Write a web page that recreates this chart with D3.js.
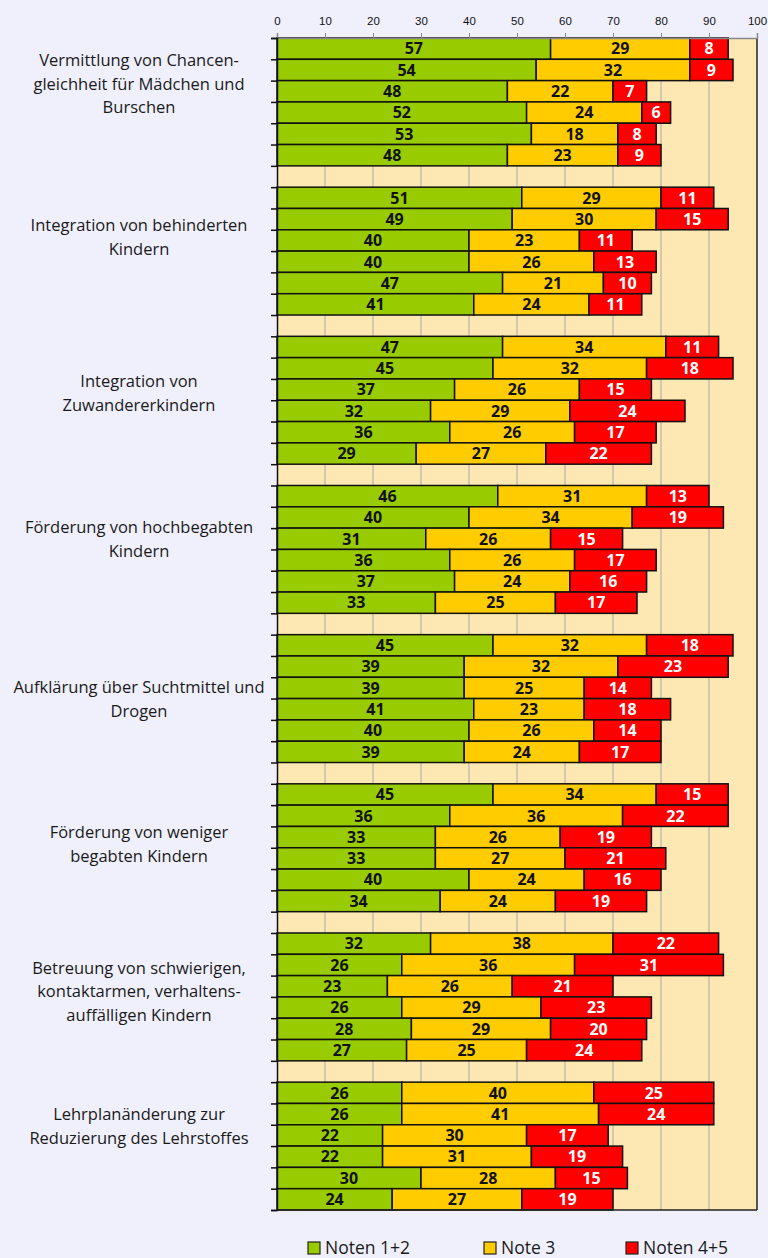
<!DOCTYPE html>
<meta charset="utf-8">
<html>
<head>
<script src="https://d3js.org/d3.v7.min.js"></script>
<style>
  body { margin: 0; background: #f0f0fc; }
  svg { display: block; font-family: "Open Sans", sans-serif; }
</style>
</head>
<body>
<script>
// categories (one label per group, lines split)
var categories = [
  ["Vermittlung von Chancen-", "gleichheit für Mädchen und", "Burschen"],
  ["Integration von behinderten", "Kindern"],
  ["Integration von", "Zuwandererkindern"],
  ["Förderung von hochbegabten", "Kindern"],
  ["Aufklärung über Suchtmittel und", "Drogen"],
  ["Förderung von weniger", "begabten Kindern"],
  ["Betreuung von schwierigen,", "kontaktarmen, verhaltens-", "auffälligen Kindern"],
  ["Lehrplanänderung zur", "Reduzierung des Lehrstoffes"]
];
// label centre, in bar rows from the top of each group
var labelOffset = [2.16, 2.34, 2.67, 2.52, 3.03, 2.84, 2.74, 2.08];

var seriesNames = ["Noten 1+2", "Note 3", "Noten 4+5"];
var seriesColors = ["#99cc00", "#ffcc00", "#ff0000"];
var textColors = ["#111", "#111", "#fff"];

// six bars per group
var noten12 = [
  [57, 54, 48, 52, 53, 48],
  [51, 49, 40, 40, 47, 41],
  [47, 45, 37, 32, 36, 29],
  [46, 40, 31, 36, 37, 33],
  [45, 39, 39, 41, 40, 39],
  [45, 36, 33, 33, 40, 34],
  [32, 26, 23, 26, 28, 27],
  [26, 26, 22, 22, 30, 24]
];
var note3 = [
  [29, 32, 22, 24, 18, 23],
  [29, 30, 23, 26, 21, 24],
  [34, 32, 26, 29, 26, 27],
  [31, 34, 26, 26, 24, 25],
  [32, 32, 25, 23, 26, 24],
  [34, 36, 26, 27, 24, 24],
  [38, 36, 26, 29, 29, 25],
  [40, 41, 30, 31, 28, 27]
];
var noten45 = [
  [8, 9, 7, 6, 8, 9],
  [11, 15, 11, 13, 10, 11],
  [11, 18, 15, 24, 17, 22],
  [13, 19, 15, 17, 16, 17],
  [18, 23, 14, 18, 14, 17],
  [15, 22, 19, 21, 16, 19],
  [22, 31, 21, 23, 20, 24],
  [25, 24, 17, 19, 15, 19]
];
var xTicks = [0, 10, 20, 30, 40, 50, 60, 70, 80, 90, 100];

var W = 768, H = 1258;
var pL = 277, pR = 757, pT = 38, pB = 1210;
var perGroup = 7; // 6 bars + gap
var nSlots = categories.length * perGroup - 1;

var svg = d3.select("body").append("svg")
  .attr("width", W).attr("height", H);

var x = d3.scaleLinear().domain([0, 100]).range([pL, pR]);
var y = d3.scaleLinear().domain([0, nSlots]).range([pT, pB]);

// plot area
svg.append("rect")
  .attr("x", pL).attr("y", pT)
  .attr("width", pR - pL).attr("height", pB - pT)
  .attr("fill", "#fde8b4");

svg.append("g").selectAll("line")
  .data(xTicks.slice(1, -1))
  .enter().append("line")
  .attr("x1", d => x(d)).attr("x2", d => x(d))
  .attr("y1", pT).attr("y2", pB)
  .attr("stroke", "#a8a8a8").attr("stroke-width", 1);

// build rows
var rows = [];
categories.forEach(function(c, g) {
  for (var i = 0; i < 6; i++) {
    var vals = [noten12[g][i], note3[g][i], noten45[g][i]];
    var x0 = 0;
    vals.forEach(function(v, s) {
      rows.push({slot: g * perGroup + i, s: s, x0: x0, v: v});
      x0 += v;
    });
  }
});

var bars = svg.append("g").selectAll("g")
  .data(rows).enter().append("g");

bars.append("rect")
  .attr("x", d => x(d.x0))
  .attr("y", d => y(d.slot))
  .attr("width", d => x(d.x0 + d.v) - x(d.x0))
  .attr("height", d => y(d.slot + 1) - y(d.slot))
  .attr("fill", d => seriesColors[d.s])
  .attr("stroke", "#111").attr("stroke-width", 1.5);

bars.append("text")
  .attr("x", d => x(d.x0 + d.v / 2))
  .attr("y", d => y(d.slot + 0.5))
  .attr("dy", "0.36em")
  .attr("text-anchor", "middle")
  .attr("font-size", 16).attr("font-weight", "bold")
  .attr("fill", d => textColors[d.s])
  .text(d => d.v);

// right border of plot
svg.append("line")
  .attr("x1", pR).attr("x2", pR).attr("y1", pT).attr("y2", pB)
  .attr("stroke", "#222").attr("stroke-width", 1.5);

// top axis
var xAxis = svg.append("g")
  .attr("transform", "translate(0," + pT + ")")
  .call(d3.axisTop(x).tickValues(xTicks).tickSize(5).tickPadding(8));
xAxis.select(".domain").attr("stroke", "#888").attr("stroke-width", 1.5);
xAxis.selectAll(".tick line").attr("stroke", "#888");
xAxis.selectAll("text").attr("font-size", 11.5).attr("fill", "#111");

// left axis with a tick at each row boundary
var yAxis = svg.append("g")
  .attr("transform", "translate(" + pL + ",0)")
  .call(d3.axisLeft(y).tickValues(d3.range(0, nSlots + 1)).tickSize(6).tickFormat(""));
yAxis.select(".domain").attr("stroke", "#111").attr("stroke-width", 1.5);
yAxis.selectAll(".tick line").attr("stroke", "#111").attr("stroke-width", 1.5);

// bottom line
svg.append("line")
  .attr("x1", pL).attr("x2", pR).attr("y1", pB).attr("y2", pB)
  .attr("stroke", "#222").attr("stroke-width", 1.5);

// category labels
var lineH = 23.5;
var cat = svg.append("g").selectAll("text")
  .data(categories).enter().append("text")
  .attr("text-anchor", "middle")
  .attr("font-size", 16.5).attr("fill", "#1a1a1a")
  .attr("transform", function(d, g) {
    var cy = y(g * perGroup + labelOffset[g]) - (d.length - 1) * lineH / 2;
    return "translate(139," + cy + ")";
  });
cat.selectAll("tspan")
  .data(d => d).enter().append("tspan")
  .attr("x", 0)
  .attr("y", (d, i) => i * lineH)
  .attr("dy", "0.35em")
  .text(d => d);

// legend
var legX = [308, 484, 626];
var leg = svg.append("g").selectAll("g")
  .data(seriesNames).enter().append("g")
  .attr("transform", (d, i) => "translate(" + legX[i] + ",1248)");
leg.append("rect")
  .attr("x", 0).attr("y", -6).attr("width", 12).attr("height", 12)
  .attr("fill", (d, i) => seriesColors[i])
  .attr("stroke", "#222").attr("stroke-width", 1.2);
leg.append("text")
  .attr("x", 17).attr("dy", "0.35em")
  .attr("font-size", 17.5).attr("fill", "#1a1a1a")
  .text(d => d);
</script>
</body>
</html>
